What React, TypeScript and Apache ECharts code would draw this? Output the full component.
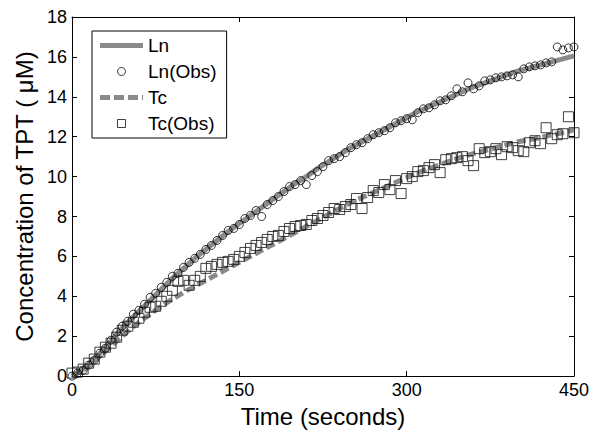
import React, { useEffect, useRef } from "react";
import * as echarts from "echarts";

const curveTimes = [0, 10, 20, 30, 40, 50, 60, 70, 80, 90, 100, 110, 120, 130, 140, 150, 160, 170, 180, 190, 200, 210, 220, 230, 240, 250, 260, 270, 280, 290, 300, 310, 320, 330, 340, 350, 360, 370, 380, 390, 400, 410, 420, 430, 440, 450];
const lnFit = [0, 0.35, 0.85, 1.45, 2.1, 2.7, 3.25, 3.8, 4.35, 4.9, 5.4, 5.9, 6.35, 6.8, 7.25, 7.65, 8.05, 8.45, 8.85, 9.25, 9.65, 10.0, 10.4, 10.75, 11.1, 11.45, 11.75, 12.05, 12.35, 12.65, 12.95, 13.25, 13.5, 13.75, 14.0, 14.25, 14.5, 14.7, 14.9, 15.1, 15.3, 15.45, 15.6, 15.75, 15.9, 16.05];
const tcFit = [0, 0.3, 0.75, 1.25, 1.75, 2.25, 2.7, 3.1, 3.5, 3.85, 4.2, 4.5, 4.8, 5.1, 5.4, 5.7, 6.0, 6.3, 6.6, 6.9, 7.2, 7.5, 7.8, 8.1, 8.4, 8.7, 8.95, 9.2, 9.45, 9.7, 9.95, 10.2, 10.4, 10.6, 10.8, 11.0, 11.15, 11.3, 11.45, 11.6, 11.75, 11.85, 11.95, 12.1, 12.2, 12.35];

const obsTimes = [0, 5, 10, 15, 20, 25, 30, 35, 40, 45, 50, 55, 60, 65, 70, 75, 80, 85, 90, 95, 100, 105, 110, 115, 120, 125, 130, 135, 140, 145, 150, 155, 160, 165, 170, 175, 180, 185, 190, 195, 200, 205, 210, 215, 220, 225, 230, 235, 240, 245, 250, 255, 260, 265, 270, 275, 280, 285, 290, 295, 300, 305, 310, 315, 320, 325, 330, 335, 340, 345, 350, 355, 360, 365, 370, 375, 380, 385, 390, 395, 400, 405, 410, 415, 420, 425, 430, 435, 440, 445, 450];
const lnObs = [0.0, 0.15, 0.3, 0.55, 0.8, 1.15, 1.4, 1.8, 2.2, 2.5, 2.75, 3.1, 3.3, 3.6, 3.95, 4.15, 4.45, 4.7, 5.0, 5.15, 5.45, 5.7, 5.9, 6.1, 6.35, 6.55, 6.8, 7.05, 7.3, 7.4, 7.6, 7.9, 8.05, 8.3, 8.0, 8.6, 8.8, 9.0, 9.25, 9.5, 9.6, 9.8, 9.6, 10.05, 10.25, 10.5, 10.8, 10.9, 11.0, 11.2, 11.45, 11.6, 11.7, 11.9, 12.1, 12.2, 12.3, 12.45, 12.7, 12.8, 12.9, 12.85, 13.2, 13.4, 13.45, 13.6, 13.8, 13.85, 14.05, 14.4, 14.25, 14.7, 14.4, 14.55, 14.8, 14.85, 14.95, 15.0, 15.05, 15.1, 15.0, 15.4, 15.5, 15.55, 15.6, 15.7, 15.75, 16.5, 16.35, 16.45, 16.5];
const tcObs = [0.15, 0.2, 0.35, 0.65, 0.85, 1.2, 1.45, 1.65, 1.95, 2.3, 2.5, 2.7, 2.9, 3.2, 3.45, 3.5, 3.75, 4.0, 4.3, 4.75, 4.8, 4.55, 4.8, 5.0, 5.4, 5.5, 5.6, 5.7, 5.75, 5.85, 6.0, 6.2, 6.4, 6.55, 6.7, 6.85, 7.0, 7.05, 7.25, 7.4, 7.5, 7.55, 7.6, 7.8, 7.9, 8.05, 8.2, 8.4, 8.35, 8.5, 8.6, 8.9, 8.4, 8.95, 9.3, 9.2, 9.6, 9.35, 9.8, 9.15, 9.9, 10.0, 10.25, 10.3, 10.45, 10.6, 10.2, 10.85, 10.9, 10.95, 11.0, 10.8, 10.55, 11.4, 11.2, 11.25, 11.4, 11.1, 11.5, 11.45, 11.3, 11.25, 11.7, 11.8, 11.65, 12.45, 11.9, 12.1, 12.15, 13.0, 12.2];

const xTicks = [0, 150, 300, 450];
const yTicks = [0, 2, 4, 6, 8, 10, 12, 14, 16, 18];
const seriesNames = ["Ln", "Ln(Obs)", "Tc", "Tc(Obs)"];
const xTitle = "Time (seconds)";
const yTitle = "Concentration of TPT ( \u03bcM)";

const FONT = "'Liberation Sans', Arial, Helvetica, sans-serif";
const GRAY = "#8a8a8a";

export default function App() {
  const ref = useRef<HTMLDivElement>(null);
  useEffect(() => {
    const chart = echarts.init(ref.current!, null, { renderer: "svg" });
    const pair = (xs: number[], ys: number[]) => xs.map((x, i) => [x, ys[i]]);
    const xMin = xTicks[0];
    const xMax = xTicks[xTicks.length - 1];
    const xInt = xTicks[1] - xTicks[0];
    const yMin = yTicks[0];
    const yMax = yTicks[yTicks.length - 1];
    const yInt = yTicks[1] - yTicks[0];
    const axisLine = { show: true, onZero: false, lineStyle: { color: "#000", width: 1 } };
    const tick = { show: true, inside: true, length: 5, lineStyle: { color: "#000", width: 1 } };
    chart.setOption({
      animation: false,
      backgroundColor: "#fff",
      textStyle: { fontFamily: FONT },
      grid: { left: 72, right: 29, top: 17, bottom: 54, show: false },
      legend: {
        data: [
          {
            name: seriesNames[0],
            icon: "path://M0,0h43v5h-43z",
            itemStyle: { color: GRAY, borderWidth: 0 },
          },
          {
            name: seriesNames[1],
            icon: "circle",
            itemStyle: { color: "rgba(255,255,255,0)", borderColor: "#000", borderWidth: 1 },
          },
          {
            name: seriesNames[2],
            icon: "path://M0,0h10v5h-10zM14,0h10v5h-10zM28,0h10v5h-10zM42,0h1v5h-1z",
            itemStyle: { color: GRAY, borderWidth: 0 },
          },
          {
            name: seriesNames[3],
            icon: "path://M0,0h8v8h-8z",
            itemStyle: { color: "rgba(255,255,255,0)", borderColor: "#111", borderWidth: 1 },
          },
        ],
        orient: "vertical",
        left: 92,
        top: 31,
        padding: [5, 10, 5, 8],
        itemWidth: 43,
        itemHeight: 8,
        itemGap: 7,
        symbolKeepAspect: true,
        borderColor: "#000",
        borderWidth: 1,
        backgroundColor: "#fff",
        textStyle: { fontSize: 19, color: "#000", fontFamily: FONT },
      },
      xAxis: [
        {
          type: "value",
          min: xMin,
          max: xMax,
          interval: xInt,
          position: "bottom",
          name: xTitle,
          nameLocation: "middle",
          nameGap: 18,
          nameTextStyle: { fontSize: 24, color: "#000", fontFamily: FONT },
          axisLine,
          axisTick: tick,
          axisLabel: { fontSize: 18, color: "#000", margin: 5, fontFamily: FONT },
          splitLine: { show: false },
        },
        {
          type: "value",
          min: xMin,
          max: xMax,
          interval: xInt,
          position: "top",
          axisLine,
          axisTick: tick,
          axisLabel: { show: false },
          splitLine: { show: false },
        },
      ],
      yAxis: [
        {
          type: "value",
          min: yMin,
          max: yMax,
          interval: yInt,
          position: "left",
          name: yTitle,
          nameLocation: "middle",
          nameGap: 33,
          nameTextStyle: { fontSize: 24, color: "#000", fontFamily: FONT },
          axisLine,
          axisTick: tick,
          axisLabel: { fontSize: 18, color: "#000", margin: 5, fontFamily: FONT },
          splitLine: { show: false },
        },
        {
          type: "value",
          min: yMin,
          max: yMax,
          interval: yInt,
          position: "right",
          axisLine,
          axisTick: tick,
          axisLabel: { show: false },
          splitLine: { show: false },
        },
      ],
      series: [
        {
          name: seriesNames[0],
          type: "line",
          data: pair(curveTimes, lnFit),
          symbol: "none",
          lineStyle: { color: GRAY, width: 5 },
          itemStyle: { color: GRAY },
          z: 1,
        },
        {
          name: seriesNames[1],
          type: "scatter",
          data: pair(obsTimes, lnObs),
          symbol: "circle",
          symbolSize: 8,
          itemStyle: { color: "rgba(255,255,255,0)", borderColor: "#000", borderWidth: 1 },
          z: 3,
        },
        {
          name: seriesNames[2],
          type: "line",
          data: pair(curveTimes, tcFit),
          symbol: "none",
          lineStyle: { color: GRAY, width: 5, type: [9, 4] },
          itemStyle: { color: GRAY },
          z: 1,
        },
        {
          name: seriesNames[3],
          type: "scatter",
          data: pair(obsTimes, tcObs),
          symbol: "rect",
          symbolSize: 10,
          itemStyle: { color: "rgba(255,255,255,0)", borderColor: "#111", borderWidth: 1 },
          z: 3,
        },
      ],
    });
    return () => chart.dispose();
  }, []);
  return (
    <div
      ref={ref}
      style={{ position: "fixed", left: 0, top: 0, width: 603, height: 433 }}
    />
  );
}
